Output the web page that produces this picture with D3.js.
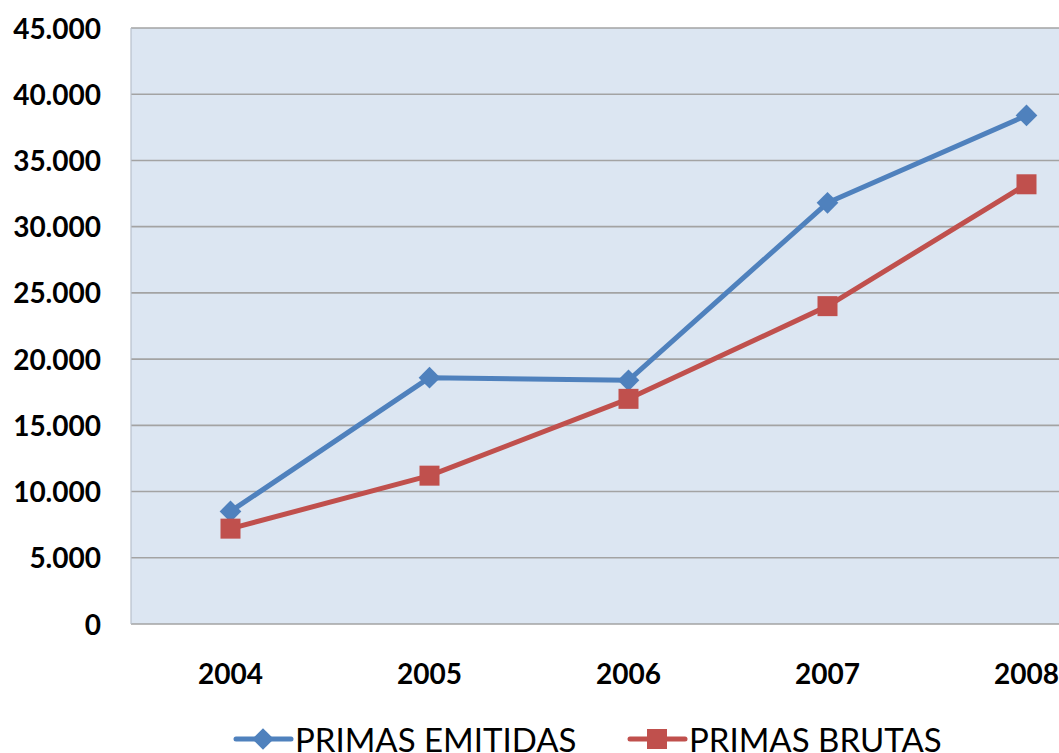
<!DOCTYPE html>
<html>
<head>
<meta charset="utf-8">
<script src="https://cdn.jsdelivr.net/npm/d3@7"></script>
<style>
  html, body { margin: 0; padding: 0; background: #fff; overflow: hidden; }
  svg { display: block; font-family: Lato, "Open Sans", sans-serif; }
</style>
</head>
<body>
<div id="chart"></div>
<script>
// Chart data
const years = ['2004', '2005', '2006', '2007', '2008'];
const primasEmitidas = [8500, 18600, 18400, 31800, 38400];
const primasBrutas = [7200, 11200, 17000, 24000, 33200];
const yTicks = [0, 5000, 10000, 15000, 20000, 25000, 30000, 35000, 40000, 45000];
const seriesNames = ['PRIMAS EMITIDAS', 'PRIMAS BRUTAS'];

function draw() {
    const dimensions = {
        width: 1059,
        height: 753,
        plotLeft: 131,
        plotTop: 28,
        plotBottom: 624,
        bandWidth: 199
    }

    const svg = d3.select('#chart')
        .append('svg')
        .attr('width', dimensions.width)
        .attr('height', dimensions.height)

    // scales
    const xScale = d3.scaleBand()
        .domain(years)
        .range([dimensions.plotLeft, dimensions.plotLeft + dimensions.bandWidth * years.length])

    const yScale = d3.scaleLinear()
        .domain([0, 45000])
        .range([dimensions.plotBottom, dimensions.plotTop])

    const xPos = d => xScale(d) + xScale.bandwidth() / 2

    // plot background
    svg.append('rect')
        .attr('x', dimensions.plotLeft)
        .attr('y', dimensions.plotTop)
        .attr('width', xScale.range()[1] - dimensions.plotLeft)
        .attr('height', dimensions.plotBottom - dimensions.plotTop)
        .attr('fill', '#dce6f2')

    // gridlines
    svg.append('g')
        .selectAll('line')
        .data(yTicks)
        .join('line')
        .attr('x1', dimensions.plotLeft)
        .attr('x2', xScale.range()[1])
        .attr('y1', d => yScale(d))
        .attr('y2', d => yScale(d))
        .attr('stroke', '#a3a3a3')
        .attr('stroke-width', 1.6)

    // left edge of plot
    svg.append('line')
        .attr('x1', dimensions.plotLeft)
        .attr('x2', dimensions.plotLeft)
        .attr('y1', dimensions.plotTop)
        .attr('y2', dimensions.plotBottom)
        .attr('stroke', '#b8c0cc')
        .attr('stroke-width', 1.2)

    // y axis labels
    const fmt = d => d === 0 ? '0' : d3.format(',')(d).replace(/,/g, '.')
    const yAxis = d3.axisLeft(yScale)
        .tickValues(yTicks)
        .tickFormat(fmt)
        .tickSize(0)
        .tickPadding(0)

    svg.append('g')
        .attr('transform', 'translate(101,0)')
        .call(yAxis)
        .call(g => g.select('.domain').remove())
        .selectAll('text')
        .attr('font-family', 'Lato, sans-serif')
        .attr('font-size', 28)
        .attr('font-weight', 700)
        .attr('fill', '#000')
        .attr('dy', '0.36em')

    // x axis labels
    const xAxis = d3.axisBottom(xScale)
        .tickSize(0)
        .tickPadding(0)

    svg.append('g')
        .attr('transform', 'translate(0,664)')
        .call(xAxis)
        .call(g => g.select('.domain').remove())
        .selectAll('text')
        .attr('font-family', 'Lato, sans-serif')
        .attr('font-size', 28)
        .attr('font-weight', 700)
        .attr('fill', '#000')

    // lines
    const colors = ['#4f81bd', '#c0504d']
    const allSeries = [primasEmitidas, primasBrutas]

    const lineGen = d3.line()
        .x((d, i) => xPos(years[i]))
        .y(d => yScale(d))

    svg.append('g')
        .selectAll('path')
        .data(allSeries)
        .join('path')
        .attr('d', lineGen)
        .attr('fill', 'none')
        .attr('stroke', (d, i) => colors[i])
        .attr('stroke-width', 5)
        .attr('stroke-linejoin', 'round')

    // markers
    const diamond = d3.symbol().type(d3.symbolDiamond2).size(300)
    svg.append('g')
        .selectAll('path')
        .data(primasEmitidas)
        .join('path')
        .attr('d', diamond)
        .attr('transform', (d, i) => `translate(${xPos(years[i])},${yScale(d)})`)
        .attr('fill', colors[0])

    svg.append('g')
        .selectAll('rect')
        .data(primasBrutas)
        .join('rect')
        .attr('x', (d, i) => xPos(years[i]) - 10)
        .attr('y', d => yScale(d) - 10)
        .attr('width', 20)
        .attr('height', 20)
        .attr('fill', colors[1])

    // legend
    const legendY = 739
    const legend = svg.append('g')
        .selectAll('g')
        .data(seriesNames)
        .join('g')
        .attr('transform', (d, i) => `translate(${[236, 630][i]},${legendY})`)

    legend.append('line')
        .attr('x1', 0)
        .attr('x2', 55)
        .attr('stroke', (d, i) => colors[i])
        .attr('stroke-width', 5)
        .attr('stroke-linecap', 'round')

    legend.filter((d, i) => i === 0).append('path')
        .attr('d', diamond)
        .attr('transform', 'translate(27,0)')
        .attr('fill', colors[0])

    legend.filter((d, i) => i === 1).append('rect')
        .attr('x', 17)
        .attr('y', -10)
        .attr('width', 20)
        .attr('height', 20)
        .attr('fill', colors[1])

    legend.append('text')
        .attr('x', 59)
        .attr('y', 13)
        .attr('font-size', 33)
        .attr('fill', '#000')
        .text(d => d)
}

draw();
</script>
</body>
</html>
